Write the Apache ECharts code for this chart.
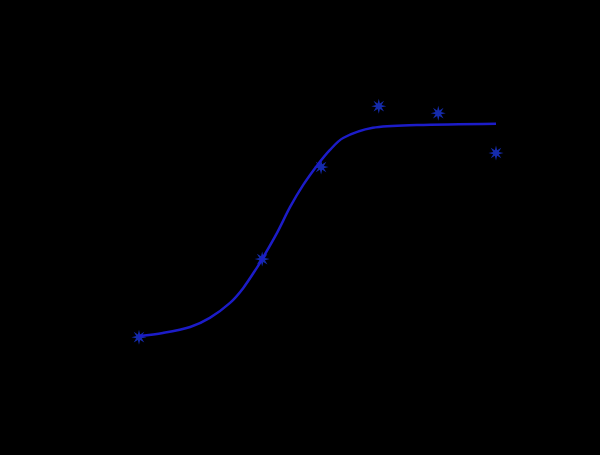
<!DOCTYPE html>
<html>
<head>
<meta charset="utf-8">
<script src="https://cdn.jsdelivr.net/npm/echarts@6/dist/echarts.min.js"></script>
<style>
html, body { margin: 0; padding: 0; background: #000; }
#main { width: 600px; height: 455px; }
</style>
</head>
<body>
<div id="main"></div>
<script>
// measured doses (log scale) and responses
var doseX = [0, 2.07, 3.06, 4.03, 5.03, 6.0];
var responseY = [15.1, 37.4, 63.7, 81.1, 79.1, 67.7];

// fitted curve
var fitX = [0, 0.4, 0.86, 1.19, 1.53, 1.75, 1.98, 2.08, 2.32, 2.54, 2.76, 3.0, 3.21, 3.43, 3.93, 4.67, 6.0];
var fitY = [15.4, 16.3, 18.0, 20.6, 24.9, 29.1, 34.9, 37.7, 44.9, 52.3, 58.6, 64.3, 68.6, 72.0, 74.9, 75.7, 76.1];

var asterisk = 'path://M20,10 L13.7,11.53 L17.07,17.07 L11.53,13.7 L10,20 L8.47,13.7 L2.93,17.07 L6.3,11.53 L0,10 L6.3,8.47 L2.93,2.93 L8.47,6.3 L10,0 L11.53,6.3 L17.07,2.93 L13.7,8.47 Z';

var myChart = echarts.init(document.getElementById('main'));

option = {
    backgroundColor: '#000',
    animation: false,
    grid: { left: 79.5, width: 476, top: 40, height: 350 },
    xAxis: { type: 'value', min: -1, max: 7, show: false },
    yAxis: { type: 'value', min: 0, max: 100, show: false },
    series: [
        {
            name: 'fit',
            type: 'line',
            smooth: 0.3,
            showSymbol: false,
            lineStyle: { color: '#1c1cc8', width: 2.5 },
            data: fitX.map(function (x, i) { return [x, fitY[i]]; })
        },
        {
            name: 'data',
            type: 'scatter',
            symbol: asterisk,
            symbolSize: 15,
            itemStyle: { color: '#1a36d6' },
            data: doseX.map(function (x, i) { return [x, responseY[i]]; })
        }
    ]
};

myChart.setOption(option);
</script>
</body>
</html>
